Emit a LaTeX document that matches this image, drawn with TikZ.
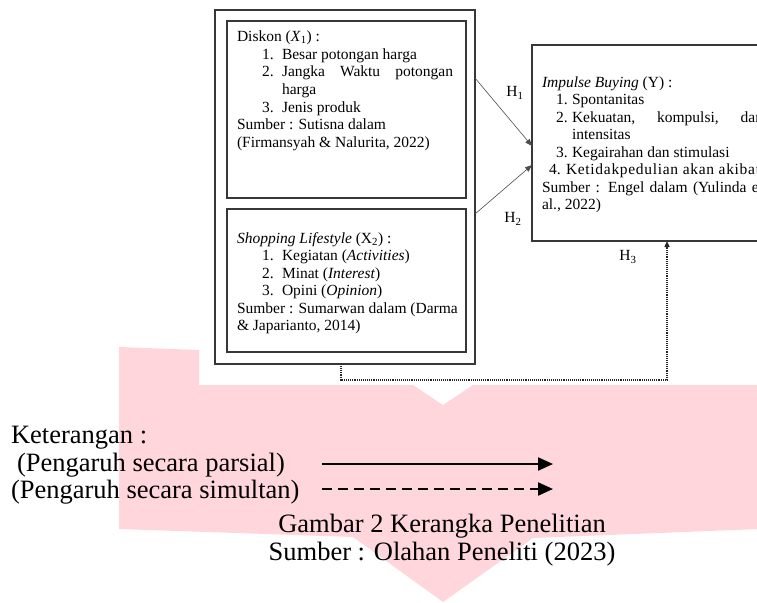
\documentclass[tikz,border=0pt]{standalone}
\usepackage{fontspec}
\setmainfont{Liberation Serif}
\usetikzlibrary{arrows.meta}
\definecolor{wmpink}{RGB}{255,214,219}
\definecolor{frameclr}{RGB}{55,55,55}
\begin{document}
\begin{tikzpicture}[x=1pt,y=-1pt,
  frame/.style={draw=frameclr, line width=1.3pt, inner sep=0pt, outer sep=0pt, anchor=north west},
  txt/.style={anchor=base west, inner sep=0pt, outer sep=0pt, font=\fontsize{15.5}{17.5}\selectfont},
  hlab/.style={anchor=center, inner sep=0pt, outer sep=0pt, font=\fontsize{15.5}{17.5}\selectfont},
  big/.style={inner sep=0pt, outer sep=0pt, font=\fontsize{26.5}{28}\selectfont},
  hline/.style={draw=black!70, line width=0.6pt, -{Triangle[length=7pt,width=5.5pt]}},
  dotline/.style={draw=black!85, line width=1.4pt, dash pattern=on 1pt off 0.9pt, -{Triangle[length=6pt,width=5pt]}},
  legsolid/.style={draw=black, line width=2.2pt, -{Triangle[length=15pt,width=13pt]}},
  legdash/.style={legsolid, dash pattern=on 10pt off 6pt}
]
\useasboundingbox (0,0) rectangle (757,602);
\clip (0,0) rectangle (757,602);

% pink background shape
\fill[wmpink] (119,347) -- (199,350) -- (199,385) -- (413,385) -- (443,405) -- (473,385)
  -- (760,385) -- (760,529) -- (533,538) -- (443,602) -- (353,537) -- (119,529) -- cycle;

% frames
\node[frame, minimum width=260pt, minimum height=354pt] (outer) at (215,10) {};
\node[frame, minimum width=239pt, minimum height=177pt] (diskon) at (227,21) {};
\node[frame, minimum width=239pt, minimum height=143pt] (shop) at (227,209) {};
\node[frame, minimum width=245pt, minimum height=196pt] (impulse) at (532,45) {};

% Diskon box text
\node[txt] (d0) at (237,41.7) {Diskon (\textit{X}\textsubscript{1}) :};
\node[txt] (d1n) at (262,59.3) {1.};
\node[txt] (d1) at (282,59.3) {Besar potongan harga};
\node[txt] (d2n) at (262,76.9) {2.};
\node[txt] (d2) at (282,76.9) {\makebox[171pt][s]{Jangka Waktu potongan}};
\node[txt] (d2b) at (282,94.5) {harga};
\node[txt] (d3n) at (262,112.1) {3.};
\node[txt] (d3) at (282,112.1) {Jenis produk};
\node[txt] (d4) at (237,129.7) {Sumber : Sutisna dalam};
\node[txt] (d5) at (237,147.3) {(Firmansyah \& Nalurita, 2022)};

% Shopping lifestyle text
\node[txt] (s0) at (237,243) {\textit{Shopping Lifestyle} (X\textsubscript{2}) :};
\node[txt] (s1n) at (262,260.5) {1.};
\node[txt] (s1) at (282,260.5) {Kegiatan (\textit{Activities})};
\node[txt] (s2n) at (262,278) {2.};
\node[txt] (s2) at (282,278) {Minat (\textit{Interest})};
\node[txt] (s3n) at (262,295.5) {3.};
\node[txt] (s3) at (282,295.5) {Opini (\textit{Opinion})};
\node[txt] (s4) at (237,313) {Sumber : Sumarwan dalam (Darma};
\node[txt] (s5) at (237,330.5) {\& Japarianto, 2014)};

% Impulse buying text
\node[txt] (y0) at (542,87) {\textit{Impulse Buying} (Y) :};
\node[txt] (y1n) at (556,104.5) {1.};
\node[txt] (y1) at (572,104.5) {Spontanitas};
\node[txt] (y2n) at (556,122) {2.};
\node[txt] (y2) at (572,122) {\makebox[191pt][s]{Kekuatan, kompulsi, dan}};
\node[txt] (y2b) at (572,139.5) {intensitas};
\node[txt] (y3n) at (556,157) {3.};
\node[txt] (y3) at (572,157) {Kegairahan dan stimulasi};
\node[txt] (y4n) at (549,174.5) {4.};
\node[txt] (y4) at (566,174.5) {\addfontfeatures{LetterSpace=4.5}Ketidakpedulian akan akibat};
\node[txt] (y5) at (542,192) {\makebox[221pt][s]{Sumber : Engel dalam (Yulinda et}};
\node[txt] (y6) at (542,209.5) {al., 2022)};

% hypothesis connectors
\draw[hline] (outer.east |- 0,78) -- (impulse.west |- 0,146);
\draw[hline] (outer.east |- 0,214) -- (impulse.west |- 0,165);
\draw[dotline] (outer.south -| 341,0) -- ++(0,16) -| (impulse.south -| 667,0);

\node[hlab] (h1) at (515,93) {H\textsubscript{1}};
\node[hlab] (h2) at (513,219) {H\textsubscript{2}};
\node[hlab] (h3) at (628,257) {H\textsubscript{3}};

% legend
\node[big, anchor=base west] (ket) at (11,443) {Keterangan :};
\node[big, anchor=base west] (pars) at (17,471) {(Pengaruh secara parsial)};
\node[big, anchor=base west] (simu) at (11,498) {(Pengaruh secara simultan)};
\coordinate (a1s) at (322,464);
\coordinate (a1e) at (553,464);
\coordinate (a2s) at (322,489);
\coordinate (a2e) at (553,489);
\draw[legsolid] (a1s) -- (a1e);
\draw[legdash] (a2s) -- (a2e);

% caption
\node[big, anchor=base] (cap1) at (442,532) {Gambar 2 Kerangka Penelitian};
\node[big, anchor=base] (cap2) at (442,560) {Sumber : Olahan Peneliti (2023)};
\end{tikzpicture}
\end{document}
